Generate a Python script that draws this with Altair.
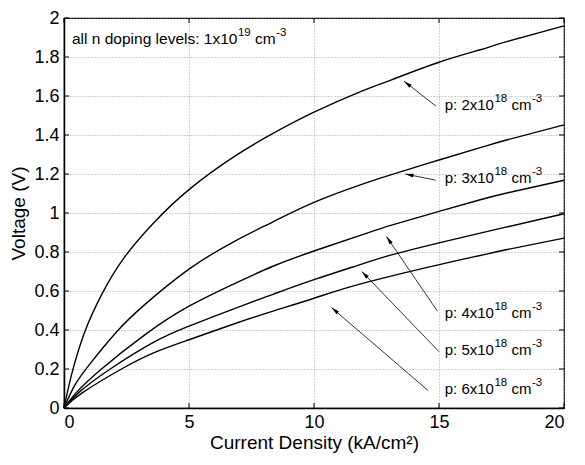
import math
import altair as alt
import pandas as pd

# ---- data ----
series_names = ["p2", "p3", "p4", "p5", "p6"]

J1 = [0, 0.3, 0.8, 1.5, 2.4, 3.63, 5, 6.82, 8.36, 10, 11.91, 13.1, 15, 16.65, 17.63, 20]
V1 = [0, 0.17, 0.38, 0.58, 0.77, 0.955, 1.12, 1.29, 1.408, 1.517, 1.625, 1.683, 1.773, 1.837, 1.876, 1.96]

J2 = [0, 0.4, 1.0, 2.1, 3.23, 5, 6.82, 8.36, 10, 11.91, 13.1, 15, 16.65, 17.63, 20]
V2 = [0, 0.11, 0.22, 0.39, 0.53, 0.712, 0.855, 0.955, 1.055, 1.147, 1.197, 1.272, 1.335, 1.372, 1.452]

J3 = [0, 0.5, 1.5, 3.23, 5, 6.82, 8.36, 10, 11.91, 13.1, 15, 16.65, 17.63, 20]
V3 = [0, 0.08, 0.2, 0.375, 0.522, 0.638, 0.727, 0.805, 0.888, 0.938, 1.008, 1.068, 1.1, 1.168]

J4 = [0, 0.6, 1.85, 3.63, 5, 6.82, 8.36, 10, 11.91, 13.1, 15, 16.65, 17.63, 20]
V4 = [0, 0.08, 0.2, 0.34, 0.42, 0.51, 0.583, 0.658, 0.738, 0.785, 0.847, 0.897, 0.926, 0.996]

J5 = [0, 0.7, 2.3, 3.63, 5, 6.82, 8.36, 10, 11.91, 15.1, 16.65, 17.63, 20]
V5 = [0, 0.075, 0.2, 0.285, 0.35, 0.432, 0.497, 0.563, 0.638, 0.738, 0.782, 0.81, 0.871]

# label pieces: "p: Nx10" + sup "18" + "cm" + sup "-3"
label_base = ["p: 2x10", "p: 3x10", "p: 4x10", "p: 5x10", "p: 6x10"]
label_exp = ["18", "18", "18", "18", "18"]
label_unit = ["cm", "cm", "cm", "cm", "cm"]
label_unit_exp = ["-3", "-3", "-3", "-3", "-3"]
label_J = [15.23, 15.23, 15.23, 15.23, 15.23]
label_V = [1.556, 1.178, 0.486, 0.30, 0.10]

arrow_tail_J = [14.87, 14.87, 14.94, 15.0, 14.57]
arrow_tail_V = [1.549, 1.168, 0.496, 0.289, 0.089]
arrow_tip_J = [13.6, 13.65, 12.9, 11.91, 10.7]
arrow_tip_V = [1.676, 1.2, 0.879, 0.70, 0.515]

note_base = ["all n doping levels: 1x10"]
note_exp = ["19"]
note_unit = ["cm"]
note_unit_exp = ["-3"]
note_J = [0.32]
note_V = [1.89]

x_ticks = [0, 5, 10, 15, 20]
y_ticks = [0, 0.2, 0.4, 0.6, 0.8, 1, 1.2, 1.4, 1.6, 1.8, 2]

# ---- layout ----
W, H = 500, 390
PAD = {"left": 56, "top": 10, "right": 13, "bottom": 46}
FONT = "Liberation Sans"

# Arial / Liberation Sans advance widths (em)
AW = {"p": .556, ":": .278, " ": .278, "x": .5, "c": .5, "m": .833, "-": .333,
      "a": .556, "l": .222, "n": .556, "d": .556, "o": .556, "i": .222, "g": .556,
      "e": .556, "v": .5, "s": .5}


def tw(s, size):
    return sum(AW.get(ch, .556) for ch in s) * size


rows = []
for name, js, vs in zip(series_names, [J1, J2, J3, J4, J5], [V1, V2, V3, V4, V5]):
    for j, v in zip(js, vs):
        rows.append({"series": name, "J": j, "V": v})
df = pd.DataFrame(rows)

sx, sy = W / 20.0, H / 2.0
angles = []
for tj, tv, hj, hv in zip(arrow_tail_J, arrow_tail_V, arrow_tip_J, arrow_tip_V):
    dx = (hj - tj) * sx
    dy = -(hv - tv) * sy
    angles.append(math.degrees(math.atan2(dx, -dy)) % 360)

arr = pd.DataFrame({"tx": arrow_tail_J, "ty": arrow_tail_V, "hx": arrow_tip_J,
                    "hy": arrow_tip_V, "angle": angles})
lab = pd.DataFrame({"lx": label_J, "ly": label_V, "b": label_base, "e": label_exp,
                    "u": label_unit, "ue": label_unit_exp})
note = pd.DataFrame({"lx": note_J, "ly": note_V, "b": note_base, "e": note_exp,
                     "u": note_unit, "ue": note_unit_exp})

xs = alt.Scale(domain=[0, 20], nice=False, zero=False)
ys = alt.Scale(domain=[0, 2], nice=False, zero=False)
AX = alt.Axis(values=x_ticks, format="~g", title="Current Density (kA/cm²)")
AY = alt.Axis(values=y_ticks, format="~g", title="Voltage (V)")


def X(f):
    return alt.X(f, scale=xs, axis=AX)


def Y(f):
    return alt.Y(f, scale=ys, axis=AY)


lines = alt.Chart(df).mark_line(color="black", strokeWidth=1.4, interpolate="natural").encode(
    x=X("J:Q"), y=Y("V:Q"), detail="series:N",
)

arrow_lines = alt.Chart(arr).mark_rule(color="black", strokeWidth=0.8).encode(
    x=X("tx:Q"), y=Y("ty:Q"), x2="hx:Q", y2="hy:Q",
)

heads = alt.Chart(arr).mark_point(
    shape="M0,0L-0.6,2.6L0.6,2.6Z", filled=True, size=40, color="black", opacity=1, strokeWidth=0
).encode(
    x=X("hx:Q"), y=Y("hy:Q"), angle=alt.Angle("angle:Q", scale=None),
)


def rich_text(data, base_size, sup_size, base_sample, exp_sample, unit_sample):
    w1 = tw(base_sample, base_size) + 0.5
    w2 = tw(exp_sample, sup_size) + tw(" ", base_size)
    w3 = tw(unit_sample, base_size) + 0.5
    common = dict(align="left", baseline="middle", font=FONT, color="black")
    parts = [
        ("b:N", base_size, 0, 0),
        ("e:N", sup_size, w1, -6),
        ("u:N", base_size, w1 + w2, 0),
        ("ue:N", sup_size, w1 + w2 + w3, -6),
    ]
    out = []
    for field, size, dx, dy in parts:
        out.append(alt.Chart(data).mark_text(fontSize=size, dx=dx, dy=dy, **common).encode(
            x=X("lx:Q"), y=Y("ly:Q"), text=field))
    return out


label_layers = rich_text(lab, 15, 11.5, label_base[0], label_exp[0], label_unit[0])
note_layers = rich_text(note, 15.5, 11.5, note_base[0], note_exp[0], note_unit[0])

xt = pd.DataFrame({"t": x_ticks})
yt = pd.DataFrame({"t": y_ticks})
tick_b = alt.Chart(xt).mark_rule(color="black", strokeWidth=1).encode(
    x=X("t:Q"), y=alt.value(H), y2=alt.value(H - 5))
tick_t = alt.Chart(xt).mark_rule(color="black", strokeWidth=1).encode(
    x=X("t:Q"), y=alt.value(0), y2=alt.value(5))
tick_l = alt.Chart(yt).mark_rule(color="black", strokeWidth=1).encode(
    y=Y("t:Q"), x=alt.value(0), x2=alt.value(5))
tick_r = alt.Chart(yt).mark_rule(color="black", strokeWidth=1).encode(
    y=Y("t:Q"), x=alt.value(W), x2=alt.value(W - 5))

chart = alt.layer(
    lines, arrow_lines, heads, *label_layers, *note_layers, tick_b, tick_t, tick_l, tick_r
).properties(
    width=W,
    height=H,
    autosize=alt.AutoSizeParams(type="none"),
    padding=PAD,
    background="white",
).configure_view(
    stroke="black", strokeWidth=1.2
).configure_axis(
    labelFont=FONT, labelFontSize=18, labelColor="black",
    titleFont=FONT, titleFontSize=19, titleColor="black", titleFontWeight="normal",
    ticks=False, labelPadding=5,
    domainColor="black", domainWidth=1.5,
    grid=True, gridColor="#8a8a8a", gridDash=[1, 2], gridWidth=0.8,
).configure_axisX(
    labelPadding=5, titlePadding=2,
).configure_axisY(
    titlePadding=5,
)

chart.save("out.html", embed_options={"renderer": "svg", "actions": False})
